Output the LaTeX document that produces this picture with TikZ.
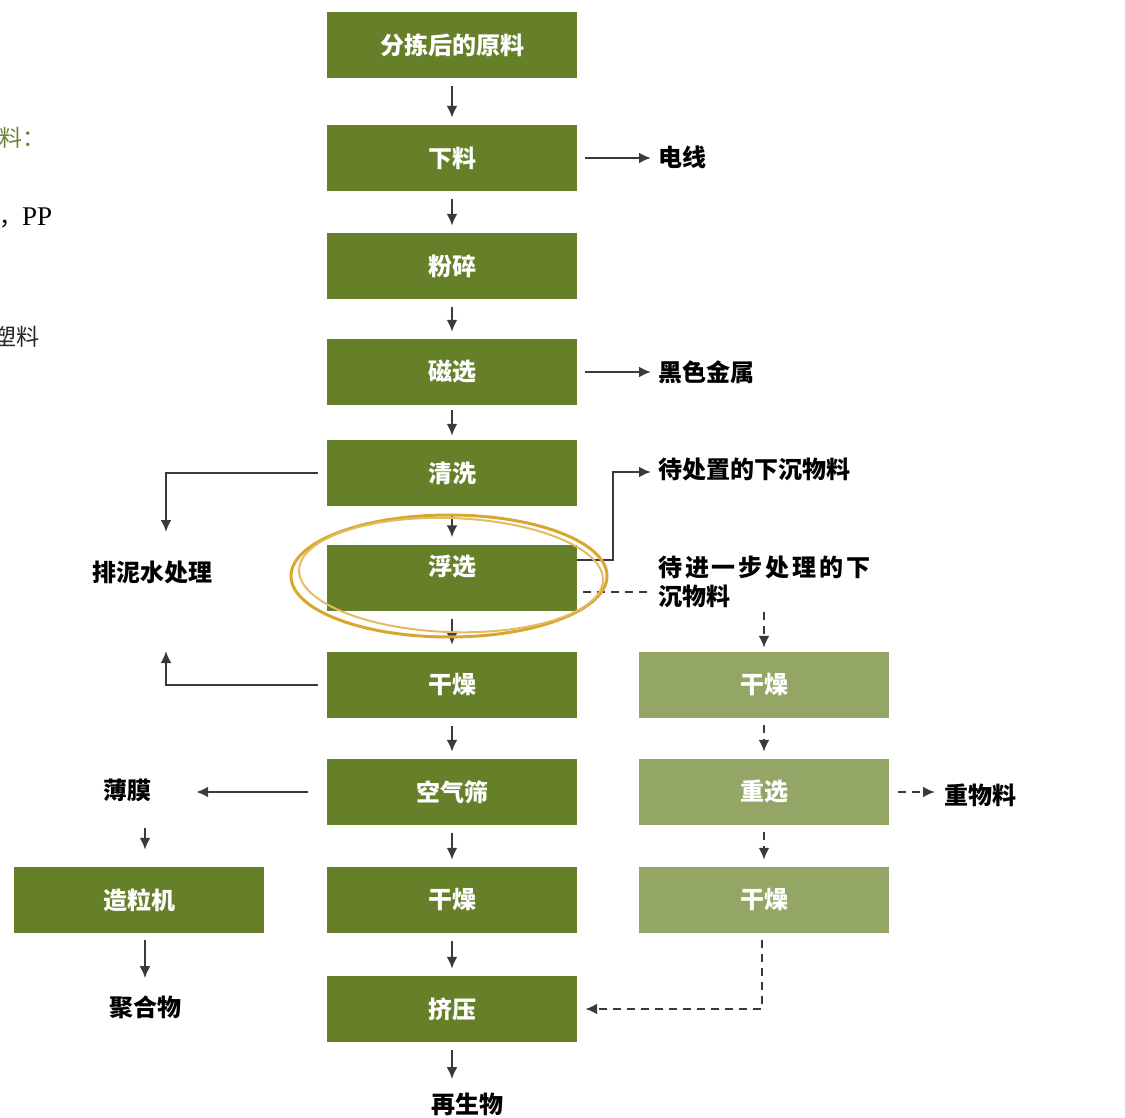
\documentclass[tikz,border=0pt]{standalone}
\usepackage{fontspec}
\setmainfont{Liberation Serif}
\newfontfamily\cjk{Noto Sans CJK SC}
\newfontfamily\cjksp{Noto Sans CJK SC}[LetterSpace=12]
\usetikzlibrary{arrows.meta,calc}
\definecolor{dkg}{HTML}{66802A}
\definecolor{ltg}{HTML}{93A665}
\definecolor{arrc}{HTML}{3A3A3A}
\definecolor{gold}{HTML}{D9A62E}
\definecolor{lgtxt}{HTML}{6B8035}
\begin{document}
\begin{tikzpicture}[x=1pt,y=-1pt,
  box/.style={fill=dkg, minimum width=250pt, minimum height=66pt, inner sep=0pt, text=white, font=\cjk\bfseries\fontsize{24}{27}\selectfont},
  lbox/.style={box, fill=ltg},
  lab/.style={font=\cjk\bfseries\fontsize{24}{28}\selectfont, inner sep=0pt, text=black},
  con/.style={draw=arrc, line width=2.5pt},
  tip/.style={-{Latex[length=12pt,width=11pt]}},
  dsh/.style={dash pattern=on 8pt off 6pt},
  dn/.style={con, tip, shorten <=8pt, shorten >=7pt},
]
\useasboundingbox (0,0) rectangle (1125,1118);
\clip (0,0) rectangle (1125,1118);

% partially visible text on the left edge
\node[font=\cjk\fontsize{23}{26}\selectfont, text=lgtxt, anchor=west, inner sep=0pt] (p1) at (-1,138) {料：};
\node[anchor=west, inner sep=0pt] (p2) at (-1,218) {{\cjk\fontsize{23}{26}\selectfont ，}{\fontsize{27}{30}\selectfont PP}};
\node[font=\cjk\fontsize{23}{26}\selectfont, text=black!85, anchor=west, inner sep=0pt] (p3) at (-7,337) {塑料};

% main column
\node[box] (n1) at (452,45) {分拣后的原料};
\node[box] (n2) at (452,158) {下料};
\node[box] (n3) at (452,266) {粉碎};
\node[box] (n4) at (452,372) {磁选};
\node[box] (n5) at (452,473) {清洗};
\node[box, label={[text=white, font=\cjk\bfseries\fontsize{24}{27}\selectfont, yshift=11pt]center:浮选}] (n6) at (452,577.5) {};
\node[box] (n7) at (452,685) {干燥};
\node[box] (n8) at (452,792) {空气筛};
\node[box] (n9) at (452,900) {干燥};
\node[box] (n10) at (452,1009) {挤压};
% right column
\node[lbox] (r1) at (764,685) {干燥};
\node[lbox] (r2) at (764,792) {重选};
\node[lbox] (r3) at (764,900) {干燥};
% left box
\node[box] (g1) at (139,900) {造粒机};

% labels
\node[lab, anchor=west] (w1) at (658,157) {电线};
\node[lab, anchor=west] (w2) at (658,372) {黑色金属};
\node[lab, anchor=west] (w3) at (658,469) {待处置的下沉物料};
\node[lab, anchor=west, font=\cjksp\bfseries\fontsize{24}{28}\selectfont] (w4) at (658,567) {待进一步处理的下};
\node[lab, anchor=west] (w4b) at (658,596) {沉物料};
\node[lab] (pn) at (152,572) {排泥水处理};
\node[lab] (bm) at (127,790) {薄膜};
\node[lab] (jh) at (145,1007) {聚合物};
\node[lab] (zs) at (467,1104) {再生物};
\node[lab, anchor=west] (zw) at (944,795) {重物料};

% main column arrows
\draw[dn] (n1.south) -- (n2.north);
\draw[dn] (n2.south) -- (n3.north);
\draw[dn] (n3.south) -- (n4.north);
\draw[dn, shorten <=5pt, shorten >=4pt] (n4.south) -- (n5.north);
\draw[dn] (n5.south) -- (n6.north);
\draw[dn] (n6.south) -- (n7.north);
\draw[dn] (n7.south) -- (n8.north);
\draw[dn] (n8.south) -- (n9.north);
\draw[dn] (n9.south) -- (n10.north);
\coordinate (e10) at ($(n10.south)+(0,37)$);
\draw[dn, shorten >=0pt] (n10.south) -- (e10);

% right side outputs
\draw[con, tip, shorten <=8pt, shorten >=7pt] (n2.east) -- (w1.west |- n2.east);
\draw[con, tip, shorten <=8pt, shorten >=7pt] (n4.east) -- (w2.west |- n4.east);
\draw[con, tip, shorten >=7pt] ([yshift=17.5pt]n6.east) -- ++(36,0) |- ([yshift=-3pt]w3.west);
\draw[con, dsh] ([xshift=6pt,yshift=-14.5pt]n6.east) -- ++(68,0);
\coordinate (d1) at (764,612);
\draw[con, dsh, tip, shorten >=4pt] (d1) -- (r1.north);
\draw[con, dsh, tip, shorten <=7pt, shorten >=7pt] (r1.south) -- (r2.north);
\draw[con, dsh, tip, shorten <=7pt, shorten >=7pt] (r2.south) -- (r3.north);
\draw[con, dsh, tip, shorten <=9pt, shorten >=9pt] (r2.east) -- (zw.west |- r2.east);
\draw[con, dsh, tip, shorten <=7pt, shorten >=8pt] ([xshift=-2pt]r3.south) |- (n10.east);

% left side
\coordinate (c1) at (166,532);
\coordinate (c2) at (166,651);
\draw[con, tip] ([xshift=-9pt]n5.west) -| (c1);
\draw[con, tip] ([xshift=-9pt]n7.west) -| (c2);
\draw[con, tip, shorten <=19pt, shorten >=45pt] (n8.west) -- (bm.east |- n8.west);
\draw[con, tip] ([xshift=6pt,yshift=39pt]g1.north) -- ([xshift=6pt,yshift=17pt]g1.north);
\draw[con, tip] ([xshift=6pt,yshift=-7pt]g1.south) -- ([xshift=6pt,yshift=-45pt]g1.south);

% highlight ellipse
\draw[gold, line width=3pt] (449,576) ellipse [x radius=158, y radius=61];
\draw[gold!75, line width=2pt, rotate around={-2:(449,576)}] (451,575) ellipse [x radius=152, y radius=57];
\end{tikzpicture}
\end{document}
